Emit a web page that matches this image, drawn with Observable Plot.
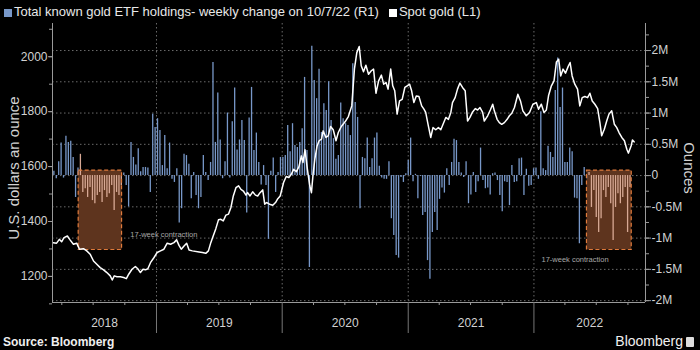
<!DOCTYPE html>
<html><head><meta charset="utf-8">
<script src="https://cdn.jsdelivr.net/npm/d3@7"></script>
<script src="https://cdn.jsdelivr.net/npm/@observablehq/plot@0.6"></script>
<style>
html,body{margin:0;padding:0;background:#000;}
body{width:700px;height:350px;overflow:hidden;position:relative;font-family:"Liberation Sans",Arial,sans-serif;}
#legend{position:absolute;left:0;top:0;width:700px;height:20px;color:#e8e8e8;font-size:13px;}
#legend span{position:absolute;top:4px;white-space:nowrap;}
.sw{position:absolute;width:8px;height:8px;top:9px;}
#chart{position:absolute;left:0;top:20px;}
#source{position:absolute;left:3px;top:335px;color:#f0f0f0;font-size:12px;font-weight:bold;}
#brand{position:absolute;right:6px;top:333px;color:#f0f0f0;font-size:14px;}
#brand i{display:inline-block;width:8px;height:10px;background:#ddd;margin-left:3px;vertical-align:-1px;border-radius:1px;}
</style></head>
<body>
<div id="legend"></div>
<div id="chart"></div>
<div id="source">Source: Bloomberg</div>
<div id="brand">Bloomberg<i></i></div>
<script>
// ---------- DATA ----------
const legendEtf = "Total known gold ETF holdings- weekly change on 10/7/22 (R1)";
const legendGold = "Spot gold (L1)";
const leftTitle = "U.S. dollars an ounce";
const rightTitle = "Ounces";
const years = [2018, 2019, 2020, 2021, 2022];
const leftTicks = [1200, 1400, 1600, 1800, 2000];
const leftMinorTicks = [1100, 1200, 1300, 1400, 1500, 1600, 1700, 1800, 1900, 2000, 2100];
const rightTicksM = [-2, -1.5, -1, -0.5, 0, 0.5, 1, 1.5, 2];
const rightMinorTicksM = [-2, -1.75, -1.5, -1.25, -1, -0.75, -0.5, -0.25, 0, 0.25, 0.5, 0.75, 1, 1.25, 1.5, 1.75, 2, 2.25];

// weekly ETF holdings change (million ounces), weeks ending Fridays from 2018-03-09 to 2022-10-07
const firstWeek = "2018-03-09";
const etfChangeM = [
 0.07,-0.05,0.22,0.52,-0.04,0.63,0.53,0.55,0.29,-0.35,0.12,0.34,
 -0.27,-0.21,-0.35,-0.19,-0.40,-0.45,-0.32,-0.27,-0.43,-0.24,-0.35,-0.29,-0.16,-0.56,-0.27,-0.32,-0.16,
 0.04,-0.16,-0.50,0.53,0.29,0.17,0.43,0.06,0.13,0.13,0.12,-0.27,0.98,0.77,0.91,0.72,0.16,0.64,0.11,0.52,-0.06,-0.11,0.11,-0.76,-0.53,0.34,0.32,0.18,-0.37,0.05,-0.32,-0.53,-0.35,
 0.32,0.05,-0.08,0.21,1.81,0.53,1.32,0.57,-0.05,0.22,1.0,-0.04,0.86,1.4,0.41,0.57,0.88,0.56,-0.6,0.92,1.41,0.4,0.68,0.21,-0.15,0.16,-0.16,-1.02,0.07,0.28,-0.27,0.05,0.29,0.29,0.32,0.8,0.38,0.83,0.48,0.45,0.53,0.75,1.57,0.4,-1.47,2.07,1.52,1.23,1.7,0.69,1.15,1.04,1.5,0.88,0.59,0.26,0.32,
 1.16,0.91,0.83,0.8,0.64,1.79,1.17,0.93,-0.53,0.29,0.27,0.6,0.13,0.27,0.6,0.68,0.15,-0.04,-0.06,-0.06,0.22,-0.69,-0.96,-1.28,-1.32,-0.03,-0.11,0.03,0.24,0.6,-0.1,0.02,-0.37,-0.01,-0.64,-0.59,-1.36,-1.66,-0.91,-0.59,-0.88,-0.38,-0.2,-0.28,0.11,-0.16,0.21,0.58,0.56,0.21,0.04,-0.03,0.22,-0.45,-0.31,0.05,-0.27,-0.1,0.44,-0.08,-0.21,-0.2,-0.31,
 0.03,0.04,-0.08,-0.32,-0.58,-0.1,-0.11,-0.48,0.16,-0.11,-0.1,0.27,0.28,-0.32,0.1,-0.17,-0.16,0.11,0.12,-0.06,1.02,0.11,0.08,0.47,0.37,0.29,1.36,1.88,1.09,1.4,0.21,0.21,0.44,0.38,-0.36,-0.37,-1.09,-0.16,0.13,-0.05,0.05,
 -0.51,-0.24,-0.67,-0.91,-0.69,-0.24,-0.35,-0.19,-0.45,-1.04,-0.51,-0.29,-0.45,-0.35,-0.19,-0.91,-0.19
];

// spot gold (USD/oz), time as decimal year
const goldTime = [
 2018.179,2018.205,2018.227,2018.245,2018.264,2018.291,2018.312,2018.339,2018.365,2018.387,2018.419,2018.445,2018.472,2018.499,2018.525,2018.552,2018.579,2018.605,2018.632,2018.648,2018.664,2018.685,2018.712,2018.739,2018.760,2018.779,2018.805,2018.832,2018.851,2018.872,2018.893,2018.912,2018.931,2018.952,2018.979,2019.005,2019.032,2019.059,2019.085,2019.112,2019.139,2019.160,2019.179,2019.197,2019.219,2019.240,2019.259,2019.285,
 2019.339,2019.365,2019.392,2019.413,2019.432,2019.451,2019.472,2019.493,2019.512,2019.531,2019.552,2019.573,2019.592,2019.611,2019.632,2019.653,2019.672,2019.691,2019.712,2019.725,2019.744,2019.765,2019.787,2019.805,2019.824,2019.845,2019.861,2019.877,2019.899,2019.925,2019.947,2019.965,2019.984,2020.011,2020.032,2020.053,2020.072,2020.091,2020.112,2020.133,2020.152,2020.165,2020.181,2020.200,2020.219,2020.232,2020.245,2020.259,2020.277,2020.293,2020.312,2020.325,2020.347,2020.365,2020.384,2020.405,2020.427,2020.445,2020.464,
 2020.472,2020.499,2020.525,2020.552,2020.573,2020.592,2020.611,2020.627,2020.645,2020.664,2020.685,2020.707,2020.725,2020.744,2020.765,2020.787,2020.805,2020.824,2020.840,2020.861,2020.877,2020.893,2020.912,2020.931,2020.952,2020.973,2020.992,2021.011,2021.027,2021.045,2021.064,2021.085,2021.107,2021.125,2021.139,2021.160,2021.179,2021.197,2021.219,2021.240,2021.259,2021.277,2021.299,2021.320,2021.339,2021.352,2021.373,2021.392,2021.411,2021.432,2021.453,2021.472,2021.491,2021.512,2021.533,2021.552,2021.571,2021.592,2021.605,2021.624,
 2021.632,2021.653,2021.672,2021.685,2021.707,2021.725,2021.744,2021.765,2021.787,2021.805,2021.824,2021.845,2021.872,2021.893,2021.912,2021.939,2021.965,2021.992,2022.019,2022.037,2022.059,2022.080,2022.099,2022.117,2022.139,2022.160,2022.179,2022.197,2022.213,2022.232,2022.251,2022.272,2022.288,2022.304,2022.325,2022.347,2022.365,2022.384,2022.405,2022.427,2022.445,2022.464,2022.485,2022.507,2022.525,2022.539,2022.560,2022.579,2022.597,2022.619,2022.640,2022.659,2022.677,2022.699,2022.720,2022.739,2022.752,2022.773,2022.784,2022.797
];
const goldPrice = [
 1323,1321,1335,1326,1341,1347,1333,1317,1321,1299,1301,1293,1281,1256,1244,1232,1224,1214,1202,1187,1202,1199,1199,1196,1192,1208,1226,1236,1228,1214,1226,1224,1228,1250,1268,1287,1293,1299,1321,1317,1323,1333,1313,1299,1311,1321,1296,1293,
 1289,1287,1284,1293,1323,1347,1374,1406,1408,1402,1423,1427,1451,1493,1523,1530,1517,1511,1496,1505,1493,1508,1496,1493,1505,1515,1463,1469,1463,1459,1469,1483,1493,1542,1564,1560,1572,1590,1581,1600,1639,1615,1661,1590,1530,1505,1572,1627,1675,1694,1700,1730,1706,1712,1746,1734,1694,1724,1742,
 1748,1763,1782,1821,1955,2015,2037,1967,1945,1969,1936,1949,1955,1867,1912,1933,1900,1906,1882,1955,1894,1876,1791,1839,1845,1888,1894,1900,1876,1833,1857,1855,1821,1809,1797,1748,1706,1742,1734,1742,1734,1754,1779,1772,1797,1833,1851,1882,1904,1888,1876,1766,1779,1799,1811,1806,1815,1797,1766,1779,
 1785,1806,1827,1803,1772,1760,1754,1760,1772,1785,1794,1815,1863,1839,1803,1785,1797,1827,1833,1809,1827,1797,1806,1860,1894,1912,1981,1991,1930,1955,1940,1964,1979,1930,1900,1882,1821,1851,1855,1851,1867,1839,1827,1811,1760,1712,1736,1766,1791,1803,1754,1742,1724,1706,1694,1663,1649,1675,1697,1690
];

// 17-week contraction annotations
const contractionStart = ["2018-05-20", "2022-06-04"];
const contractionEnd = ["2018-09-23", "2022-10-12"];
const contractionTopM = [0.08, 0.08];
const contractionBottomM = [-1.19, -1.19];
const contractionLabel = ["17-week contraction", "17-week contraction"];
const contractionLabelDate = ["2018-10-17", "2022-01-23"];
const contractionLabelM = [-0.94, -1.34];

// ---------- BUILD ----------
const ZERO = 1567.2, PER_M = 227.7;           // right (ounces, millions) -> left ($) mapping
const toLeft = m => ZERO + PER_M * m;
const toM = v => Math.round((v - ZERO) / PER_M * 100) / 100;
const day = 864e5;
const fromDecimalYear = t => { const y = Math.floor(t); const a = Date.UTC(y,0,1), b = Date.UTC(y+1,0,1); return new Date(a + (t - y) * (b - a)); };

const w0 = new Date(firstWeek + "T00:00:00Z");
const bars = etfChangeM.map((v, i) => ({date: new Date(+w0 + i * 7 * day), v}));
const gold = goldTime.map((t, i) => ({date: fromDecimalYear(t), price: goldPrice[i]}));
const contractions = contractionStart.map((s, i) => ({
  start: new Date(s + "T00:00:00Z"), end: new Date(contractionEnd[i] + "T00:00:00Z"),
  top: contractionTopM[i], bottom: contractionBottomM[i],
  label: contractionLabel[i], labelDate: new Date(contractionLabelDate[i] + "T00:00:00Z"), labelM: contractionLabelM[i]
}));
const inContraction = d => contractions.some(c => d.date >= c.start && d.date <= c.end);

const xDomain = [new Date("2018-03-05T00:00:00Z"), new Date("2022-11-21T00:00:00Z")];
const yDomain = [1105, 2121];
const yearStarts = years.slice(1).map(y => new Date(Date.UTC(y, 0, 1)));
const quarterStarts = [];
years.forEach(y => [3, 6, 9].forEach(m => { const d = new Date(Date.UTC(y, m, 1)); if (d > xDomain[0] && d < xDomain[1]) quarterStarts.push(d); }));
const yearMids = years.map(y => {
  const a = Math.max(+xDomain[0], Date.UTC(y, 0, 1)), b = Math.min(+xDomain[1], Date.UTC(y + 1, 0, 1));
  return {date: new Date((a + b) / 2), label: String(y)};
});

const axisColor = "#9a9a9a", textColor = "#d2d2d2", gridColor = "#6a6a6a";

const chart = Plot.plot({
  width: 700, height: 318,
  marginLeft: 52, marginRight: 55, marginTop: 3, marginBottom: 36,
  style: {background: "#000", color: textColor, fontFamily: "'Liberation Sans', Arial, sans-serif", fontSize: "12px"},
  x: {type: "utc", domain: xDomain},
  y: {domain: yDomain},
  marks: [
    Plot.gridY({ticks: rightTicksM.map(toLeft), stroke: gridColor, strokeOpacity: 1, strokeDasharray: "1.5,2.5"}),
    Plot.gridX({ticks: yearStarts, stroke: gridColor, strokeOpacity: 1, strokeDasharray: "1.5,2.5"}),
    Plot.rect(contractions, {x1: "start", x2: "end", y1: d => toLeft(d.top), y2: d => toLeft(d.bottom), fill: "#5e341e"}),
    Plot.ruleX(bars, {x: "date", y1: ZERO, y2: d => toLeft(d.v), stroke: d => inContraction(d) ? "#d7a995" : "#7898c9", strokeWidth: 1.3}),
    Plot.rect(contractions, {x1: "start", x2: "end", y1: d => toLeft(d.top), y2: d => toLeft(d.bottom), fill: "none", stroke: "#e07b3c", strokeWidth: 1.2, strokeDasharray: "4,2.5"}),
    Plot.text(contractions, {x: "labelDate", y: d => toLeft(d.labelM), text: "label", textAnchor: "start", fontSize: 7.5, fill: "#a8a8a8"}),
    Plot.line(gold, {x: "date", y: "price", stroke: "#ffffff", strokeWidth: 1.5}),
    // axis lines
    Plot.ruleX(xDomain, {stroke: axisColor}),
    Plot.ruleY([yDomain[0]], {stroke: axisColor}),
    // left axis
    Plot.axisY({anchor: "left", ticks: leftMinorTicks, tickSize: 3, tickFormat: () => "", label: null, stroke: axisColor}),
    Plot.axisY({anchor: "left", ticks: leftTicks, tickSize: 4, tickPadding: 1, tickFormat: d => String(d), label: null, stroke: axisColor, fill: textColor, fontSize: 12}),
    // right axis
    Plot.axisY({anchor: "right", ticks: rightMinorTicksM.map(toLeft), tickSize: 3, tickFormat: () => "", label: null, stroke: axisColor}),
    Plot.axisY({anchor: "right", ticks: rightTicksM.map(toLeft), tickSize: 5, tickPadding: 1, tickFormat: v => { const m = toM(v); return m === 0 ? "0" : m + "M"; }, label: null, stroke: axisColor, fill: textColor, fontSize: 12}),
    // x axis
    Plot.axisX({ticks: quarterStarts, tickSize: 3, tickFormat: () => "", label: null, stroke: axisColor}),
    Plot.axisX({ticks: yearStarts, tickSize: 31, tickFormat: () => "", label: null, stroke: "#777"}),
    Plot.text(yearMids, {x: "date", text: "label", frameAnchor: "bottom", dy: 24, fontSize: 12, fill: textColor}),
    // axis titles
    Plot.text([leftTitle], {frameAnchor: "left", textAnchor: "middle", dx: -38, dy: 5, rotate: -90, fontSize: 15, fill: textColor}),
    Plot.text([rightTitle], {frameAnchor: "right", textAnchor: "middle", dx: 43, dy: 5, rotate: 90, fontSize: 15, fill: textColor})
  ]
});
document.getElementById("chart").appendChild(chart);

const lg = document.getElementById("legend");
lg.innerHTML = `<div class="sw" style="left:4px;background:#7898c9"></div><span style="left:14px">${legendEtf}</span>` +
  `<div class="sw" id="sw2" style="background:#fff"></div><span id="lg2">${legendGold}</span>`;
const s1 = lg.querySelector("span");
const x2 = 14 + s1.getBoundingClientRect().width + 10;
document.getElementById("sw2").style.left = x2 + "px";
document.getElementById("lg2").style.left = (x2 + 10) + "px";
</script>
</body></html>
